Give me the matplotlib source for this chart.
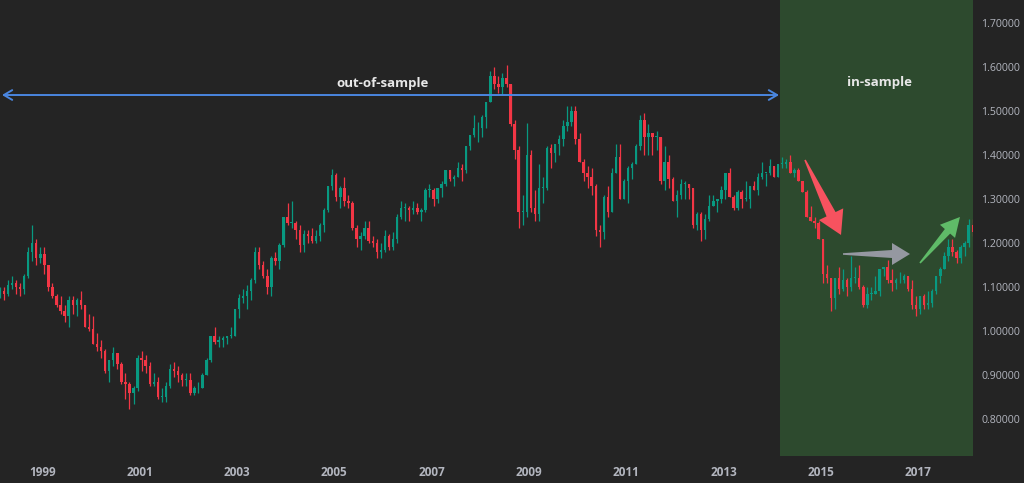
import matplotlib
matplotlib.use("Agg")
import matplotlib.pyplot as plt
from matplotlib.patches import Polygon
from matplotlib.transforms import IdentityTransform
import numpy as np
import pandas as pd

# ---------------- data (monthly EUR/USD, Feb 1998 .. Feb 2018) ----------------
start_month = "1998-02"
end_month = "2018-02"
first_open = 1.085

closes = [
    # 1998 (Feb-Dec)
    1.09, 1.085, 1.105, 1.11, 1.10, 1.095, 1.125, 1.18, 1.20, 1.165, 1.175,
    # 1999
    1.15, 1.10, 1.08, 1.06, 1.045, 1.035, 1.07, 1.06, 1.07, 1.06, 1.01, 1.005,
    # 2000
    0.97, 0.965, 0.955, 0.91, 0.935, 0.95, 0.925, 0.885, 0.88, 0.86, 0.87, 0.94,
    # 2001
    0.935, 0.92, 0.88, 0.885, 0.85, 0.85, 0.875, 0.915, 0.91, 0.90, 0.89, 0.89,
    # 2002
    0.86, 0.87, 0.87, 0.90, 0.935, 0.99, 0.975, 0.98, 0.985, 0.99, 0.99, 1.05,
    # 2003
    1.075, 1.08, 1.09, 1.115, 1.18, 1.15, 1.125, 1.10, 1.165, 1.16, 1.195, 1.26,
    # 2004
    1.245, 1.245, 1.23, 1.195, 1.22, 1.215, 1.205, 1.215, 1.24, 1.275, 1.33, 1.355,
    # 2005
    1.305, 1.325, 1.295, 1.29, 1.235, 1.21, 1.215, 1.235, 1.205, 1.20, 1.18, 1.185,
    # 2006
    1.215, 1.19, 1.21, 1.26, 1.28, 1.28, 1.275, 1.28, 1.27, 1.275, 1.32, 1.32,
    # 2007
    1.30, 1.325, 1.335, 1.365, 1.345, 1.35, 1.37, 1.365, 1.42, 1.445, 1.46, 1.46,
    # 2008
    1.485, 1.52, 1.58, 1.56, 1.555, 1.575, 1.56, 1.47, 1.41, 1.27, 1.27, 1.40,
    # 2009
    1.28, 1.265, 1.325, 1.325, 1.415, 1.405, 1.425, 1.435, 1.465, 1.475, 1.50, 1.435,
    # 2010
    1.385, 1.36, 1.35, 1.33, 1.23, 1.225, 1.305, 1.27, 1.36, 1.395, 1.30, 1.34,
    # 2011
    1.37, 1.38, 1.42, 1.48, 1.44, 1.45, 1.44, 1.44, 1.34, 1.385, 1.345, 1.295,
    # 2012
    1.31, 1.335, 1.335, 1.325, 1.24, 1.265, 1.23, 1.255, 1.285, 1.295, 1.30, 1.32,
    # 2013
    1.36, 1.305, 1.28, 1.315, 1.30, 1.30, 1.33, 1.32, 1.35, 1.36, 1.36, 1.375,
    # 2014
    1.35, 1.38, 1.38, 1.385, 1.36, 1.365, 1.34, 1.315, 1.26, 1.25, 1.245, 1.21,
    # 2015
    1.13, 1.12, 1.075, 1.12, 1.095, 1.115, 1.10, 1.12, 1.12, 1.10, 1.06, 1.085,
    # 2016
    1.085, 1.09, 1.14, 1.145, 1.115, 1.11, 1.115, 1.115, 1.125, 1.095, 1.06, 1.05,
    # 2017
    1.08, 1.06, 1.065, 1.09, 1.125, 1.14, 1.17, 1.19, 1.18, 1.165, 1.19, 1.20,
    # 2018 (Jan-Feb)
    1.24, 1.225,
]

highs = [
    # 1998
    1.10, 1.10, 1.115, 1.125, 1.115, 1.11, 1.13, 1.19, 1.24, 1.21, 1.19,
    # 1999
    1.19, 1.145, 1.11, 1.085, 1.08, 1.06, 1.08, 1.08, 1.075, 1.09, 1.06, 1.04,
    # 2000
    1.035, 0.995, 0.98, 0.96, 0.935, 0.965, 0.95, 0.93, 0.905, 0.885, 0.875, 0.945,
    # 2001
    0.955, 0.945, 0.93, 0.905, 0.895, 0.87, 0.885, 0.925, 0.93, 0.92, 0.905, 0.905,
    # 2002
    0.905, 0.875, 0.885, 0.905, 0.94, 0.99, 1.01, 0.99, 0.99, 0.99, 1.01, 1.05,
    # 2003
    1.085, 1.095, 1.105, 1.12, 1.19, 1.19, 1.16, 1.14, 1.17, 1.18, 1.20, 1.26,
    # 2004
    1.29, 1.295, 1.25, 1.24, 1.23, 1.23, 1.235, 1.23, 1.245, 1.28, 1.33, 1.367,
    # 2005
    1.36, 1.33, 1.35, 1.31, 1.295, 1.24, 1.225, 1.25, 1.25, 1.215, 1.21, 1.20,
    # 2006
    1.23, 1.22, 1.225, 1.265, 1.295, 1.29, 1.285, 1.295, 1.29, 1.28, 1.325, 1.335,
    # 2007
    1.325, 1.325, 1.34, 1.365, 1.365, 1.355, 1.385, 1.38, 1.42, 1.445, 1.49, 1.475,
    # 2008
    1.49, 1.52, 1.59, 1.60, 1.58, 1.585, 1.604, 1.56, 1.48, 1.42, 1.31, 1.472,
    # 2009
    1.41, 1.32, 1.38, 1.35, 1.42, 1.425, 1.425, 1.445, 1.48, 1.51, 1.51, 1.51,
    # 2010
    1.45, 1.39, 1.375, 1.37, 1.335, 1.24, 1.31, 1.33, 1.37, 1.425, 1.425, 1.345,
    # 2011
    1.375, 1.385, 1.425, 1.49, 1.495, 1.47, 1.45, 1.455, 1.44, 1.42, 1.40, 1.35,
    # 2012
    1.32, 1.345, 1.34, 1.335, 1.325, 1.27, 1.27, 1.265, 1.31, 1.31, 1.30, 1.33,
    # 2013
    1.36, 1.37, 1.31, 1.32, 1.32, 1.34, 1.33, 1.34, 1.36, 1.385, 1.36, 1.39,
    # 2014
    1.375, 1.38, 1.395, 1.39, 1.40, 1.37, 1.37, 1.34, 1.32, 1.285, 1.26, 1.25,
    # 2015
    1.21, 1.15, 1.12, 1.12, 1.145, 1.14, 1.12, 1.17, 1.145, 1.15, 1.105, 1.10,
    # 2016
    1.10, 1.125, 1.14, 1.145, 1.162, 1.14, 1.12, 1.135, 1.13, 1.125, 1.115, 1.08,
    # 2017
    1.08, 1.085, 1.09, 1.095, 1.125, 1.145, 1.18, 1.21, 1.21, 1.185, 1.195, 1.205,
    # 2018
    1.255, 1.255,
]

lows = [
    # 1998
    1.075, 1.07, 1.08, 1.095, 1.085, 1.08, 1.085, 1.12, 1.16, 1.15, 1.155,
    # 1999
    1.13, 1.09, 1.075, 1.055, 1.04, 1.02, 1.01, 1.04, 1.035, 1.05, 1.01, 1.00,
    # 2000
    0.97, 0.955, 0.94, 0.905, 0.885, 0.92, 0.915, 0.88, 0.845, 0.823, 0.835, 0.865,
    # 2001
    0.91, 0.905, 0.875, 0.875, 0.845, 0.84, 0.84, 0.87, 0.895, 0.885, 0.875, 0.875,
    # 2002
    0.855, 0.855, 0.86, 0.87, 0.90, 0.93, 0.97, 0.965, 0.965, 0.97, 0.985, 0.99,
    # 2003
    1.03, 1.065, 1.05, 1.07, 1.11, 1.14, 1.12, 1.085, 1.08, 1.15, 1.14, 1.19,
    # 2004
    1.24, 1.235, 1.21, 1.18, 1.18, 1.20, 1.20, 1.20, 1.205, 1.225, 1.27, 1.32,
    # 2005
    1.295, 1.28, 1.285, 1.28, 1.23, 1.19, 1.185, 1.21, 1.20, 1.19, 1.165, 1.165,
    # 2006
    1.18, 1.185, 1.185, 1.20, 1.255, 1.25, 1.25, 1.265, 1.265, 1.25, 1.27, 1.305,
    # 2007
    1.285, 1.29, 1.305, 1.33, 1.34, 1.33, 1.35, 1.34, 1.36, 1.41, 1.44, 1.43,
    # 2008
    1.44, 1.46, 1.52, 1.55, 1.54, 1.535, 1.555, 1.465, 1.39, 1.235, 1.24, 1.26,
    # 2009
    1.27, 1.25, 1.25, 1.29, 1.32, 1.37, 1.385, 1.40, 1.42, 1.455, 1.465, 1.425,
    # 2010
    1.385, 1.34, 1.325, 1.31, 1.215, 1.19, 1.21, 1.26, 1.27, 1.36, 1.30, 1.30,
    # 2011
    1.29, 1.345, 1.38, 1.41, 1.40, 1.40, 1.40, 1.41, 1.335, 1.32, 1.325, 1.295,
    # 2012
    1.26, 1.30, 1.30, 1.30, 1.235, 1.23, 1.205, 1.21, 1.25, 1.285, 1.27, 1.29,
    # 2013
    1.30, 1.305, 1.275, 1.275, 1.28, 1.295, 1.28, 1.32, 1.31, 1.345, 1.33, 1.355,
    # 2014
    1.35, 1.35, 1.37, 1.37, 1.36, 1.35, 1.34, 1.315, 1.26, 1.25, 1.235, 1.21,
    # 2015
    1.11, 1.11, 1.046, 1.05, 1.085, 1.09, 1.08, 1.09, 1.11, 1.095, 1.055, 1.052,
    # 2016
    1.07, 1.085, 1.08, 1.125, 1.11, 1.09, 1.095, 1.11, 1.11, 1.09, 1.05, 1.035,
    # 2017
    1.04, 1.05, 1.05, 1.055, 1.085, 1.11, 1.14, 1.16, 1.17, 1.155, 1.155, 1.17,
    # 2018
    1.19, 1.215,
]

y_ticks = [0.8, 0.9, 1.0, 1.1, 1.2, 1.3, 1.4, 1.5, 1.6, 1.7]
x_tick_years = [1999, 2001, 2003, 2005, 2007, 2009, 2011, 2013, 2015, 2017]
in_sample_start = 2014.163
label_out = "out-of-sample"
label_in = "in-sample"

# ---------------- derived ----------------
periods = pd.period_range(start_month, end_month, freq="M")
t = np.array([p.year + (p.month - 1) / 12 + 0.5 / 12 for p in periods])
c = np.array(closes)
h = np.array(highs)
l = np.array(lows)
o = np.concatenate([[first_open], c[:-1]])

# ---------------- style ----------------
BG = "#242424"
GREEN_BG = "#2d4a2e"
UP = "#089981"
DOWN = "#f23645"
TXT = "#b2b5be"

fig = plt.figure(figsize=(10.24, 4.83), dpi=100, facecolor=BG)
ax = fig.add_axes([0, 27 / 483, 973 / 1024, 456 / 483])
ax.set_facecolor(BG)

x_left = 1998.13
x_right = x_left + 973 / 48.65
ax.set_xlim(x_left, x_right)
ax.set_ylim(0.7167, 1.7515)

ax.axvspan(in_sample_start, x_right + 1, color=GREEN_BG, zorder=0, lw=0)

up = c >= o
cols = np.where(up, UP, DOWN)
w = 0.6 / 12
ax.vlines(t, l, h, colors=cols, lw=0.9, zorder=2)
body_bottom = np.minimum(o, c)
body_h = np.maximum(np.abs(c - o), 0.002)
ax.bar(t, body_h, width=w, bottom=body_bottom, color=cols, lw=0, zorder=3)

for s in ax.spines.values():
    s.set_visible(False)

ax.yaxis.tick_right()
ax.set_yticks(y_ticks)
ax.set_yticklabels([f"{v:.5f}" for v in y_ticks])
ax.set_xticks(x_tick_years)
ax.set_xticklabels([str(y) for y in x_tick_years])
ax.tick_params(axis="both", length=0, colors=TXT)
ax.tick_params(axis="y", pad=6, labelsize=7.6)
ax.tick_params(axis="x", pad=7, labelsize=8.5)
for lab in ax.get_yticklabels():
    lab.set_fontfamily("Open Sans")
for lab in ax.get_xticklabels():
    lab.set_fontfamily("Open Sans")
    lab.set_fontweight("bold")

# blue double arrow (out-of-sample span)
ax.annotate("", xy=(x_left + 0.04, 1.5359), xytext=(in_sample_start - 0.02, 1.5359),
            arrowprops=dict(arrowstyle="<->,head_length=0.6,head_width=0.35",
                            color="#4a86e0", lw=1.4, shrinkA=0, shrinkB=0), zorder=4)
ax.text(2006.003, 1.5609, label_out, color="#e8e8e8", fontsize=9.5,
        fontweight="bold", family="Open Sans", ha="center", va="center")
ax.text(2016.218, 1.5654, label_in, color="#e8e8e8", fontsize=9.5,
        fontweight="bold", family="Open Sans", ha="center", va="center")


# trend arrows: tapered tail widening into a wide head (sizes in pixels)
def fat_arrow(start, end, color, head_len, head_w, tail_w):
    p0 = ax.transData.transform(start)
    p1 = ax.transData.transform(end)
    d = p1 - p0
    d = d / np.hypot(*d)
    n = np.array([-d[1], d[0]])
    base = p1 - d * head_len
    pts = [p0 + n * 0.8, base + n * tail_w / 2, base + n * head_w / 2, p1,
           base - n * head_w / 2, base - n * tail_w / 2, p0 - n * 0.8]
    ax.add_patch(Polygon(pts, closed=True, transform=IdentityTransform(),
                         facecolor=color, edgecolor="none", zorder=5))


fat_arrow((2014.677, 1.3885), (2015.417, 1.2183), "#f7525f", 23, 27, 10)
fat_arrow((2015.458, 1.1751), (2016.835, 1.1751), "#9598a1", 18, 22, 8)
fat_arrow((2017.040, 1.1547), (2017.862, 1.2591), "#5fbb68", 19, 20, 7)

fig.savefig("out.png", dpi=100, facecolor=BG)
